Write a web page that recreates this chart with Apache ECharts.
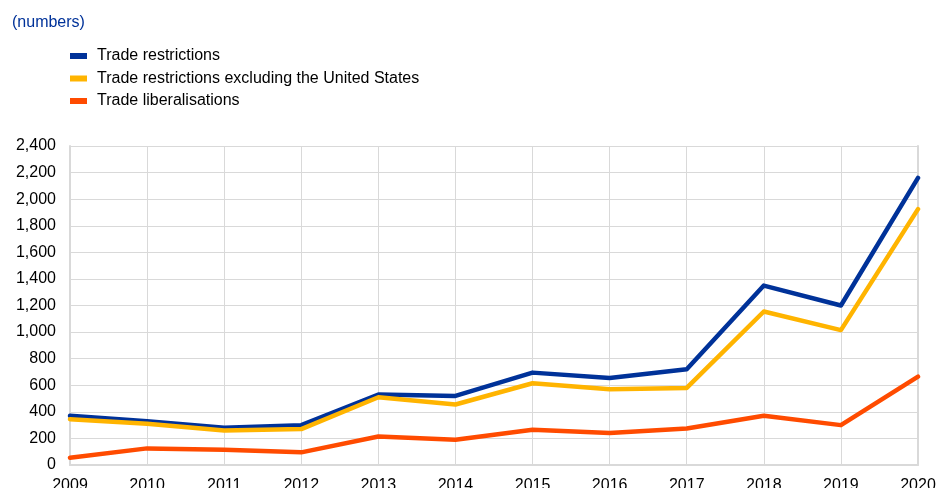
<!DOCTYPE html>
<html>
<head>
<meta charset="utf-8">
<script src="https://cdn.jsdelivr.net/npm/echarts@6/dist/echarts.min.js"></script>
<style>html,body{margin:0;padding:0;background:#fff}#c{width:936px;height:488px}</style>
</head>
<body>
<div id="c"></div>
<script>
const years = ['2009','2010','2011','2012','2013','2014','2015','2016','2017','2018','2019','2020'];
const tradeRestrictions = [370, 330, 280, 300, 530, 520, 695, 655, 720, 1350, 1200, 2160];
const restrictionsExUS = [345, 310, 260, 270, 510, 455, 615, 570, 580, 1155, 1015, 1925];
const liberalisations = [55, 125, 115, 95, 215, 190, 265, 240, 275, 370, 300, 665];
const seriesNames = ['Trade restrictions', 'Trade restrictions excluding the United States', 'Trade liberalisations'];
const colors = ['#003299', '#FFB400', '#FF4B00'];

const chart = echarts.init(document.getElementById('c'), null, {renderer: 'canvas'});
const font = 'Liberation Sans, Arial, sans-serif';
const mk = (name, data, color) => ({
  name, type: 'line', data, color,
  symbol: 'none', smooth: false,
  lineStyle: {width: 4.5, color, cap: 'round', join: 'round'},
  itemStyle: {color},
  animation: false
});
chart.setOption({
  animation: false,
  color: colors,
  title: {
    text: '(numbers)', left: 12, top: 15, padding: 0,
    textStyle: {color: '#003299', fontSize: 16, fontWeight: 'normal', fontFamily: font}
  },
  legend: {
    orient: 'vertical', left: 70, top: 48, padding: 0,
    icon: 'rect', itemWidth: 17, itemHeight: 6, itemGap: 6.5,
    textStyle: {fontSize: 16, color: '#000', fontFamily: font, padding: [0,0,0,5]},
    data: seriesNames
  },
  grid: {left: 70, right: 18, top: 146, bottom: 23, containLabel: false, outerBoundsMode: 'none'},
  xAxis: {
    type: 'category', data: years, boundaryGap: false,
    axisLine: {show: true, lineStyle: {color: '#d9d9d9', width: 2}},
    axisTick: {show: false},
    axisLabel: {color: '#000', fontSize: 16, fontFamily: font, margin: 13},
    splitLine: {show: true, lineStyle: {color: '#d9d9d9', width: 1}}
  },
  yAxis: [{
    type: 'value', min: 0, max: 2400, interval: 200,
    axisLine: {show: true, lineStyle: {color: '#d9d9d9', width: 2}},
    axisTick: {show: false},
    axisLabel: {color: '#000', fontSize: 16, fontFamily: font, margin: 14,
      formatter: v => v.toLocaleString('en-US')},
    splitLine: {show: true, lineStyle: {color: '#d9d9d9', width: 1}}
  }, {
    type: 'value', min: 0, max: 2400, interval: 200, position: 'right',
    axisLine: {show: true, lineStyle: {color: '#d9d9d9', width: 2}},
    axisTick: {show: false}, axisLabel: {show: false}, splitLine: {show: false}
  }],
  series: [
    mk(seriesNames[0], tradeRestrictions, colors[0]),
    mk(seriesNames[1], restrictionsExUS, colors[1]),
    mk(seriesNames[2], liberalisations, colors[2])
  ]
});
</script>
</body>
</html>
